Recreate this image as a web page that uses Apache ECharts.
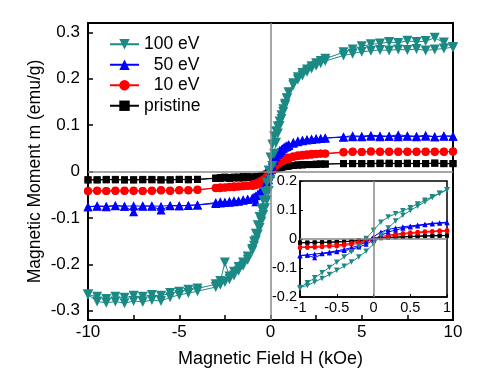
<!DOCTYPE html>
<html>
<head>
<meta charset="utf-8">
<script src="https://cdn.jsdelivr.net/npm/echarts@6/dist/echarts.min.js"></script>
<style>
  html, body { margin: 0; padding: 0; background: #fff; }
  #chart { width: 489px; height: 375px; }
</style>
</head>
<body>
<div id="chart"></div>
<script>
// 磁滞回线 M-H，主图 + 局部放大插图
var myChart = echarts.init(document.getElementById('chart'));

// 降场分支的磁场 (kOe)，升场分支取其倒序
var fieldDown = [10, 9.5, 9, 8.5, 8, 7.5, 7, 6.5, 6, 5.5, 5, 4.5, 4,
    3, 2.75, 2.5, 2.25, 2, 1.75, 1.5, 1.25,
    1, 0.9, 0.8, 0.7, 0.6, 0.5, 0.4, 0.3, 0.2, 0.1, 0, -0.1, -0.2, -0.3, -0.4, -0.5, -0.6, -0.7, -0.8, -0.9, -1,
    -1.25, -1.5, -1.75, -2, -2.25, -2.5, -2.75, -3,
    -4, -4.5, -5, -5.5, -6, -6.5, -7, -7.5, -8, -8.5, -9, -9.5, -10];
var fieldUp = fieldDown.slice().reverse();

// 100 eV
var m100Down = [0.268, 0.278, 0.288, 0.281, 0.279, 0.282, 0.277, 0.279, 0.276, 0.274, 0.270, 0.263, 0.257,
    0.243, 0.238, 0.233, 0.227, 0.220, 0.212, 0.203, 0.190,
    0.170, 0.158, 0.146, 0.134, 0.121, 0.108, 0.097, 0.087, 0.076, 0.058, 0.030, 0.002, -0.024, -0.044, -0.062, -0.080, -0.098, -0.116, -0.134, -0.151, -0.167,
    -0.183, -0.196, -0.206, -0.216, -0.226, -0.196, -0.236, -0.243,
    -0.252, -0.255, -0.259, -0.262, -0.268, -0.266, -0.270, -0.268, -0.272, -0.270, -0.275, -0.270, -0.265];
var m100Up = [-0.265, -0.280, -0.283, -0.280, -0.284, -0.279, -0.281, -0.277, -0.279, -0.271, -0.266, -0.262, -0.258,
    -0.249, -0.244, -0.238, -0.232, -0.224, -0.214, -0.203, -0.190,
    -0.171, -0.160, -0.148, -0.136, -0.122, -0.108, -0.094, -0.079, -0.062, -0.042, -0.018, 0.012, 0.038, 0.062, 0.082, 0.098, 0.113, 0.128, 0.143, 0.157, 0.170,
    0.186, 0.198, 0.207, 0.215, 0.222, 0.228, 0.233, 0.238,
    0.250, 0.254, 0.258, 0.260, 0.262, 0.261, 0.263, 0.262, 0.264, 0.261, 0.263, 0.265, 0.268];

// 50 eV
var m50Down = [0.076, 0.077, 0.075, 0.078, 0.076, 0.077, 0.079, 0.076, 0.077, 0.078, 0.076, 0.077, 0.075,
    0.072, 0.071, 0.071, 0.070, 0.069, 0.068, 0.066, 0.063,
    0.058, 0.056, 0.054, 0.051, 0.048, 0.045, 0.042, 0.038, 0.033, 0.024, 0.008, -0.010, -0.022, -0.030, -0.036, -0.041, -0.045, -0.049, -0.052, -0.055, -0.057,
    -0.060, -0.061, -0.063, -0.063, -0.064, -0.066, -0.065, -0.067,
    -0.072, -0.073, -0.074, -0.074, -0.083, -0.075, -0.074, -0.087, -0.075, -0.074, -0.076, -0.075, -0.076];
var m50Up = [-0.076, -0.074, -0.075, -0.073, -0.075, -0.074, -0.075, -0.074, -0.075, -0.073, -0.074, -0.073, -0.072,
    -0.069, -0.068, -0.067, -0.066, -0.065, -0.064, -0.062, -0.060,
    -0.059, -0.056, -0.065, -0.051, -0.048, -0.044, -0.040, -0.035, -0.028, -0.018, -0.004, 0.012, 0.024, 0.031, 0.037, 0.041, 0.045, 0.049, 0.052, 0.054, 0.056,
    0.061, 0.064, 0.066, 0.068, 0.069, 0.070, 0.071, 0.072,
    0.074, 0.075, 0.075, 0.076, 0.075, 0.076, 0.075, 0.076, 0.075, 0.076, 0.075, 0.076, 0.076];

// 10 eV
var m10Down = [0.043, 0.042, 0.043, 0.042, 0.043, 0.042, 0.043, 0.042, 0.043, 0.043, 0.042, 0.043, 0.042,
    0.039, 0.039, 0.038, 0.038, 0.037, 0.036, 0.035, 0.033,
    0.030, 0.029, 0.027, 0.026, 0.024, 0.022, 0.020, 0.017, 0.013, 0.008, 0.002, -0.005, -0.011, -0.015, -0.018, -0.020, -0.022, -0.024, -0.026, -0.027, -0.028,
    -0.030, -0.031, -0.032, -0.032, -0.033, -0.034, -0.034, -0.035,
    -0.040, -0.041, -0.041, -0.042, -0.041, -0.042, -0.042, -0.042, -0.041, -0.042, -0.042, -0.042, -0.042];
var m10Up = [-0.042, -0.041, -0.042, -0.041, -0.042, -0.041, -0.042, -0.041, -0.040, -0.041, -0.040, -0.040, -0.039,
    -0.036, -0.036, -0.035, -0.034, -0.034, -0.033, -0.032, -0.031,
    -0.031, -0.030, -0.029, -0.028, -0.026, -0.025, -0.022, -0.019, -0.015, -0.009, -0.002, 0.004, 0.009, 0.013, 0.016, 0.019, 0.021, 0.023, 0.025, 0.026, 0.027,
    0.031, 0.033, 0.034, 0.035, 0.036, 0.037, 0.038, 0.038,
    0.041, 0.042, 0.042, 0.043, 0.042, 0.043, 0.042, 0.043, 0.042, 0.043, 0.042, 0.043, 0.043];

// pristine
var m0Down = [0.017, 0.017, 0.018, 0.017, 0.017, 0.018, 0.017, 0.017, 0.018, 0.017, 0.017, 0.017, 0.017,
    0.016, 0.016, 0.016, 0.015, 0.015, 0.015, 0.014, 0.013,
    0.012, 0.012, 0.011, 0.011, 0.010, 0.009, 0.008, 0.007, 0.005, 0.003, 0.000, -0.003, -0.006, -0.008, -0.009, -0.010, -0.011, -0.012, -0.012, -0.013, -0.013,
    -0.013, -0.014, -0.014, -0.014, -0.015, -0.014, -0.015, -0.015,
    -0.017, -0.018, -0.017, -0.018, -0.018, -0.018, -0.017, -0.018, -0.018, -0.018, -0.017, -0.018, -0.018];
var m0Up = [-0.018, -0.018, -0.018, -0.017, -0.018, -0.018, -0.018, -0.017, -0.018, -0.018, -0.017, -0.017, -0.017,
    -0.014, -0.013, -0.012, -0.013, -0.012, -0.012, -0.011, -0.011,
    -0.012, -0.012, -0.012, -0.011, -0.011, -0.010, -0.009, -0.007, -0.005, -0.002, 0.001, 0.003, 0.005, 0.006, 0.007, 0.008, 0.009, 0.010, 0.011, 0.011, 0.012,
    0.013, 0.014, 0.014, 0.015, 0.015, 0.015, 0.016, 0.016,
    0.017, 0.017, 0.017, 0.017, 0.017, 0.018, 0.017, 0.017, 0.017, 0.017, 0.018, 0.017, 0.017];

var yTicks = [-0.3, -0.2, -0.1, 0, 0.1, 0.2, 0.3];
var xMinorTicks = [-7.5, -5, -2.5, 0, 2.5, 5, 7.5];

var FONT = 'Liberation Sans, Arial, sans-serif';

// 一条完整回线：降场 + 升场
function loop(down, up) {
    var d = [];
    for (var i = 0; i < fieldDown.length; i++) d.push([fieldDown[i], down[i]]);
    for (var j = 0; j < fieldUp.length; j++) d.push([fieldUp[j], up[j]]);
    return d;
}
function inInset(d) {
    return d.filter(function (p) { return Math.abs(p[0]) <= 1.0001; });
}

var samples = [
    { name: 'pristine', color: '#000000', symbol: 'rect', size: 7, inSize: 4, rot: 0, data: loop(m0Down, m0Up) },
    { name: '10 eV', color: '#ff0000', symbol: 'circle', size: 8, inSize: 4.5, rot: 0, data: loop(m10Down, m10Up) },
    { name: '50 eV', color: '#0000ff', symbol: 'triangle', size: 9, inSize: 5, rot: 0, data: loop(m50Down, m50Up) },
    { name: '100 eV', color: '#1c8a84', symbol: 'triangle', size: 10, inSize: 5.5, rot: 180, data: loop(m100Down, m100Up) }
];

var legendPad = { '100 eV': '100 eV', '50 eV': '  50 eV', '10 eV': '  10 eV', 'pristine': 'pristine' };

var series = [];
// 零线（灰色）
series.push({
    type: 'line', xAxisIndex: 0, yAxisIndex: 0, data: [], silent: true,
    markLine: {
        silent: true, symbol: 'none', label: { show: false }, animation: false,
        lineStyle: { color: '#8a8a8a', type: 'solid', width: 1.5 },
        data: [{ xAxis: 0 }, { yAxis: 0 }]
    }
});
series.push({
    type: 'line', xAxisIndex: 1, yAxisIndex: 1, data: [], silent: true,
    markLine: {
        silent: true, symbol: 'none', label: { show: false }, animation: false,
        lineStyle: { color: '#8a8a8a', type: 'solid', width: 1.5 },
        data: [{ xAxis: 0 }, { yAxis: 0 }]
    }
});
samples.forEach(function (s) {
    series.push({
        name: s.name, type: 'line', xAxisIndex: 0, yAxisIndex: 0,
        data: s.data, symbol: s.symbol, symbolSize: s.size, symbolRotate: s.rot,
        showAllSymbol: true,
        lineStyle: { color: s.color, width: 1 },
        itemStyle: { color: s.color }
    });
    series.push({
        name: s.name, type: 'line', xAxisIndex: 1, yAxisIndex: 1,
        data: inInset(s.data), symbol: s.symbol, symbolSize: s.inSize, symbolRotate: s.rot,
        showAllSymbol: true,
        lineStyle: { color: s.color, width: 1 },
        itemStyle: { color: s.color }
    });
});

option = {
    backgroundColor: '#ffffff',
    animation: false,
    legend: {
        data: ['100 eV', '50 eV', '10 eV', 'pristine'],
        orient: 'vertical',
        left: 104,
        top: 29,
        itemWidth: 29,
        itemHeight: 13,
        itemGap: 0,
        formatter: function (name) { return legendPad[name]; },
        textStyle: { color: '#000', fontSize: 17.5, fontFamily: FONT, lineHeight: 20.5 }
    },
    grid: [{
        left: 88, top: 23, width: 365, height: 297,
        show: true, borderColor: '#000', borderWidth: 2, backgroundColor: '#fff'
    }, {
        left: 300, top: 181, width: 147, height: 116,
        show: true, borderColor: '#000', borderWidth: 1.5, backgroundColor: '#fff'
    }],
    xAxis: [{
        type: 'value', gridIndex: 0, min: -10, max: 10, interval: 5,
        name: 'Magnetic Field H (kOe)', nameLocation: 'middle', nameGap: 30,
        nameTextStyle: { color: '#000', fontSize: 18, fontFamily: FONT },
        splitLine: { show: false },
        axisLine: { show: true, onZero: false, lineStyle: { color: '#000', width: 2 } },
        axisTick: { show: true, inside: true, length: 5, customValues: xMinorTicks, lineStyle: { color: '#000', width: 1.5 } },
        axisLabel: { color: '#000', fontSize: 17, fontFamily: FONT, margin: 4 }
    }, {
        type: 'value', gridIndex: 1, min: -1, max: 1, interval: 0.5,
        splitLine: { show: false },
        axisLine: { show: true, onZero: false, lineStyle: { color: '#000', width: 1.5 } },
        axisTick: { show: true, inside: true, length: 3, lineStyle: { color: '#000' } },
        axisLabel: { color: '#000', fontSize: 14.5, fontFamily: FONT, margin: 3 }
    }],
    yAxis: [{
        type: 'value', gridIndex: 0, min: -0.32, max: 0.32,
        name: 'Magnetic Moment m (emu/g)', nameLocation: 'middle', nameGap: 44,
        nameMoveOverlap: false,
        nameTextStyle: { color: '#000', fontSize: 17.5, fontFamily: FONT },
        splitLine: { show: false },
        axisLine: { show: true, onZero: false, lineStyle: { color: '#000', width: 2 } },
        axisTick: { show: true, inside: true, length: 5, customValues: yTicks, lineStyle: { color: '#000', width: 1.5 } },
        axisLabel: { color: '#000', fontSize: 17, fontFamily: FONT, margin: 8, customValues: yTicks }
    }, {
        type: 'value', gridIndex: 1, min: -0.2, max: 0.2, interval: 0.1,
        splitLine: { show: false },
        axisLine: { show: true, onZero: false, lineStyle: { color: '#000', width: 1.5 } },
        axisTick: { show: true, inside: true, length: 3, lineStyle: { color: '#000' } },
        axisLabel: { color: '#000', fontSize: 14.5, fontFamily: FONT, margin: 3 }
    }],
    series: series
};

myChart.setOption(option);
</script>
</body>
</html>
